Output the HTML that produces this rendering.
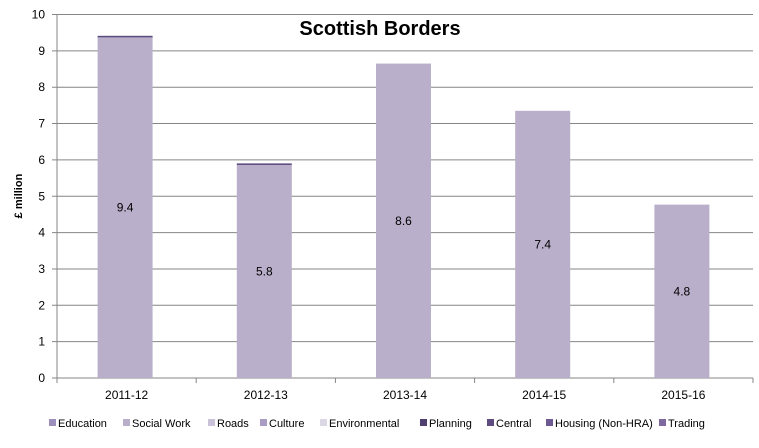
<!DOCTYPE html>
<html><head><meta charset="utf-8"><style>
body{margin:0;background:#fff;font-family:"Liberation Sans",sans-serif;}
svg text{font-family:"Liberation Sans",sans-serif;}
</style></head><body>
<svg id="c" width="759" height="443">
<text x="380" y="35" text-anchor="middle" font-size="20" font-weight="bold">Scottish Borders</text>
<text transform="translate(22,196) rotate(-90)" text-anchor="middle" font-size="11" font-weight="bold">£ million</text>
<g id="grid"></g><g id="bars"></g><g id="legend"></g>
</svg>
<script>
const categories=["2011-12","2012-13","2013-14","2014-15","2015-16"];
const socialWork=[9.37,5.86,8.65,7.35,4.77];
const topSliver=[0.03,0.03,0,0,0];
const labels=["9.4","5.8","8.6","7.4","4.8"];
const yTicks=[0,1,2,3,4,5,6,7,8,9,10];
const legendNames=["Education","Social Work","Roads","Culture","Environmental","Planning","Central","Housing (Non-HRA)","Trading"];
const legendColors=["#9d8fbb","#b9afca","#c9c2d8","#a99dc4","#dcd7e4","#4f3f6e","#5e4c80","#6e5a92","#7d68a0"];
const NS="http://www.w3.org/2000/svg";
const L=57,R=753,T=14.5,B=378;
const y=v=>B-(v/10)*(B-T);
const bw=(R-L)/categories.length;
const x=i=>L+bw*i+bw/2-1.5;
function mk(tag,attrs,parent){const e=document.createElementNS(NS,tag);for(const k in attrs)e.setAttribute(k,attrs[k]);parent.appendChild(e);return e;}
const g=document.getElementById('grid');
yTicks.forEach(t=>{
 const ln=mk('line',{x1:L-5,x2:R,y1:y(t),y2:y(t),stroke:'#868686','stroke-width':1},g);
 
 
 const tx=mk('text',{x:45,y:y(t)+4,'text-anchor':'end','font-size':12},g);tx.textContent=t;
 
 
});
mk('line',{x1:L,x2:L,y1:T,y2:B,stroke:'#868686'},g);
for(let i=0;i<=categories.length;i++){mk('line',{x1:L+bw*i,x2:L+bw*i,y1:B,y2:B+5,stroke:'#868686'},g);}
const bg=document.getElementById('bars');
categories.forEach((c,i)=>{
 const r=mk('rect',{x:x(i)-27.5,width:55,y:y(socialWork[i]),height:B-y(socialWork[i]),fill:'#b9afca'},bg);
 
 
 if(topSliver[i]>0){const s=mk('rect',{x:x(i)-27.5,width:55,y:y(socialWork[i]+topSliver[i])-0.5,height:Math.max(1.2,y(socialWork[i])-y(socialWork[i]+topSliver[i])+0.5),fill:'#5e4c80'},bg);
 
 }
 const lb=mk('text',{x:x(i),y:y(socialWork[i]/2)+4,'text-anchor':'middle','font-size':12},bg);lb.textContent=labels[i];
 
 
 const xl=mk('text',{x:L+bw*i+bw/2,y:399,'text-anchor':'middle','font-size':12},bg);xl.textContent=c;
 
 
});
const lg=document.getElementById('legend');
const lx=[49,123,208,260,320,420,487,546,659];
legendNames.forEach((n,i)=>{
 const m=mk('rect',{x:lx[i],y:419,width:7,height:7,fill:legendColors[i]},lg);
 
 
 const t=mk('text',{x:lx[i]+9,y:427,'font-size':11},lg);t.textContent=n;
 
 
});
</script>
</body></html>
